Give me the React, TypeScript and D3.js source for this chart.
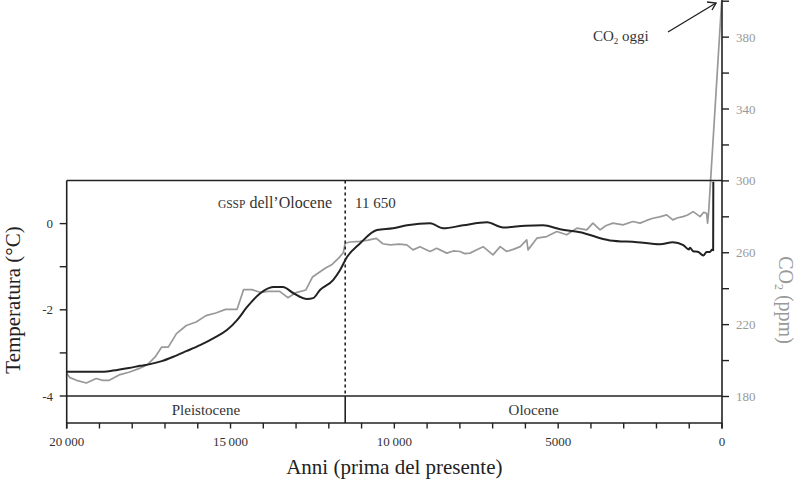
import React from "react";
import * as d3 from "d3";

// ---- data ----
const tempYears = [20000, 19000, 18590, 18100, 17760, 17455, 17100, 16750, 16350, 15930, 15500, 15110, 14800, 14500, 14100, 13700, 13400, 13090, 12660, 12480, 12270, 11870, 11660, 11440, 11050, 10530, 10040, 9610, 8910, 8510, 7900, 7170, 6680, 6000, 5460, 4940, 4330, 3420, 2590, 1890, 1500, 1180, 1010, 980, 880, 720, 570, 470, 370, 300, 270, 265];
const tempValues = [-3.44, -3.44, -3.41, -3.35, -3.3, -3.26, -3.19, -3.09, -2.96, -2.82, -2.65, -2.47, -2.24, -1.94, -1.62, -1.47, -1.47, -1.61, -1.75, -1.73, -1.54, -1.31, -1.08, -0.77, -0.46, -0.15, -0.11, -0.04, 0.01, -0.11, -0.04, 0.03, -0.09, -0.05, -0.04, -0.13, -0.2, -0.39, -0.43, -0.48, -0.43, -0.5, -0.6, -0.56, -0.64, -0.66, -0.74, -0.66, -0.66, -0.6, -0.62, 0.97];

const co2Years = [20000, 19900, 19700, 19400, 19100, 18900, 18700, 18400, 18100, 17800, 17550, 17300, 17100, 16900, 16650, 16350, 16050, 15750, 15450, 15150, 14800, 14600, 14350, 14100, 13850, 13500, 13250, 13000, 12700, 12500, 12300, 12100, 11900, 11700, 11560, 11500, 11350, 11050, 10800, 10550, 10350, 10130, 9850, 9620, 9430, 9220, 8910, 8710, 8400, 8200, 8000, 7850, 7690, 7500, 7290, 6990, 6770, 6570, 6350, 6160, 5960, 5920, 5650, 5350, 5040, 4740, 4430, 4130, 3940, 3720, 3550, 3330, 3020, 2720, 2500, 2300, 2110, 1900, 1690, 1500, 1350, 1190, 1050, 880, 670, 560, 470, 440, 410, 10];
const co2Values = [193, 190.5, 189, 187.5, 190, 189, 189, 192, 193.5, 195.5, 197.5, 202, 207.5, 207.5, 215, 219.5, 221.5, 225, 226.5, 228.5, 228.5, 239.5, 239.5, 238, 238.5, 238.5, 235, 237.8, 239.3, 246.5, 249, 251.5, 253.5, 257, 260, 265.3, 266, 266.3, 267, 268, 265, 264.4, 264.8, 264.4, 261.6, 263.4, 260.7, 262.5, 259.8, 261, 260.7, 259.5, 259.8, 261.5, 263.4, 258.8, 263.4, 260.7, 262, 263.4, 267.2, 261.6, 268.1, 269, 271.8, 270, 273.7, 272.7, 276.5, 272.7, 275, 276.5, 275.5, 277.4, 276.5, 278, 279.2, 280, 281.1, 278.3, 279.5, 280.1, 281, 282.9, 280.1, 282.5, 282, 276.5, 282, 400];

const xTickYears = d3.range(0, 20001, 1000);
const xLabelYears = [20000, 15000, 10000, 5000, 0];
const tempTicks = [-4, -3, -2, -1, 0];
const tempLabels = [-4, -2, 0];
const co2Ticks = [180, 200, 220, 240, 260, 280, 300, 320, 340, 360, 380, 400];
const co2Labels = [180, 220, 260, 300, 340, 380];

const epochNames = ["Pleistocene", "Olocene"];
const epochBounds = [20000, 11500, 0];
const gsspLabel = "11 650";

const FONT = "'Liberation Serif', 'DejaVu Serif', serif";
const DARK = "#222";
const GRAY = "#999";

export default function App() {
  const x = d3.scaleLinear().domain([20000, 0]).range([66.7, 722]);
  const yT = d3.scaleLinear().domain([-4, 1]).range([396, 180.5]);
  const yC = d3.scaleLinear().domain([180, 400]).range([396.5, 1.2]);

  const bandBottom = 423;
  const tickBottom = 428.5;
  const top = yT(1);

  const tempLine = d3
    .line<number>()
    .x((_, i) => x(tempYears[i]))
    .y((d) => yT(d))
    .curve(d3.curveMonotoneX);
  const co2Line = d3
    .line<number>()
    .x((_, i) => x(co2Years[i]))
    .y((d) => yC(d));

  const xL = x(20000);
  const xR = x(0);
  const xB = x(epochBounds[1]);

  return (
    <svg width={800} height={480} style={{ position: "absolute", left: 0, top: 0, background: "#fff" }} fontFamily={FONT}>
      <defs>
        <clipPath id="plot">
          <rect x={xL} y={top - 1} width={xR - xL + 2} height={bandBottom - top} />
        </clipPath>
      </defs>

      {/* curves */}
      <path d={co2Line(co2Values) || ""} fill="none" stroke={GRAY} strokeWidth={1.7} strokeLinejoin="round" />
      <path d={tempLine(tempValues) || ""} fill="none" stroke={DARK} strokeWidth={2} strokeLinejoin="round" clipPath="url(#plot)" />

      {/* frame */}
      <line x1={xL} x2={xR} y1={top} y2={top} stroke={DARK} strokeWidth={1.4} />
      <line x1={xL} x2={xR} y1={yT(-4)} y2={yT(-4)} stroke={DARK} strokeWidth={1.4} />
      <line x1={xL} x2={xR} y1={bandBottom} y2={bandBottom} stroke={DARK} strokeWidth={1.4} />
      <line x1={xL} x2={xL} y1={top} y2={tickBottom} stroke={DARK} strokeWidth={1.6} />
      <line x1={xR} x2={xR} y1={0} y2={tickBottom} stroke={DARK} strokeWidth={1.6} />
      <line x1={xB} x2={xB} y1={top} y2={yT(-4)} stroke={DARK} strokeWidth={1.6} strokeDasharray="3,3" />
      <line x1={xB} x2={xB} y1={yT(-4)} y2={bandBottom} stroke={DARK} strokeWidth={1.6} />

      {/* epoch labels */}
      {epochNames.map((n, i) => (
        <text key={n} x={(x(epochBounds[i]) + x(epochBounds[i + 1])) / 2} y={415} textAnchor="middle" fontSize={15} fill="#333">
          {n}
        </text>
      ))}

      {/* x axis */}
      {xTickYears.map((t) => (
        <line key={t} x1={x(t)} x2={x(t)} y1={bandBottom} y2={tickBottom} stroke={DARK} strokeWidth={1.4} />
      ))}
      {xLabelYears.map((t) => (
        <text key={t} x={x(t)} y={446} textAnchor="middle" fontSize={13} fill="#333">
          {t >= 10000 ? d3.format(",")(t).replace(",", "\u2009") : String(t)}
        </text>
      ))}
      <text x={(xL + xR) / 2} y={474} textAnchor="middle" fontSize={21} fill="#222">
        Anni (prima del presente)
      </text>

      {/* left axis */}
      {tempTicks.map((t) => (
        <line key={t} x1={xL - 7} x2={xL} y1={yT(t)} y2={yT(t)} stroke={DARK} strokeWidth={1.4} />
      ))}
      {tempLabels.map((t) => (
        <text key={t} x={53} y={yT(t) + 4.5} textAnchor="end" fontSize={13} fill="#333">
          {t}
        </text>
      ))}
      <text transform={`translate(20,300) rotate(-90)`} textAnchor="middle" fontSize={21} fill="#222">
        Temperatura (°C)
      </text>

      {/* right axis */}
      {co2Ticks.map((t) => (
        <line key={t} x1={xR} x2={xR + 7} y1={yC(t)} y2={yC(t)} stroke={DARK} strokeWidth={1.4} />
      ))}
      {co2Labels.map((t) => (
        <text key={t} x={736} y={yC(t) + 4.5} textAnchor="start" fontSize={13} fill={GRAY}>
          {t}
        </text>
      ))}
      <text transform={`translate(779,300) rotate(90)`} textAnchor="middle" fontSize={20} fill={GRAY}>
        CO<tspan fontSize={12} dy={4}>2</tspan>
        <tspan dy={-4}> (ppm)</tspan>
      </text>

      {/* annotations */}
      <text x={332} y={208} textAnchor="end" fontSize={16} fill="#333">
        <tspan fontSize={11.5}>GSSP</tspan> dell’Olocene
      </text>
      <text x={355} y={208} textAnchor="start" fontSize={15} fill="#333">
        {gsspLabel}
      </text>
      <text x={593} y={41} textAnchor="start" fontSize={15} fill="#333">
        CO<tspan fontSize={9} dy={3}>2</tspan>
        <tspan dy={-3}> oggi</tspan>
      </text>
      <line x1={668} y1={32} x2={716} y2={3} stroke={DARK} strokeWidth={1.4} />
      <polyline points="707,2 716,3 712,10" fill="none" stroke={DARK} strokeWidth={1.4} />
    </svg>
  );
}
